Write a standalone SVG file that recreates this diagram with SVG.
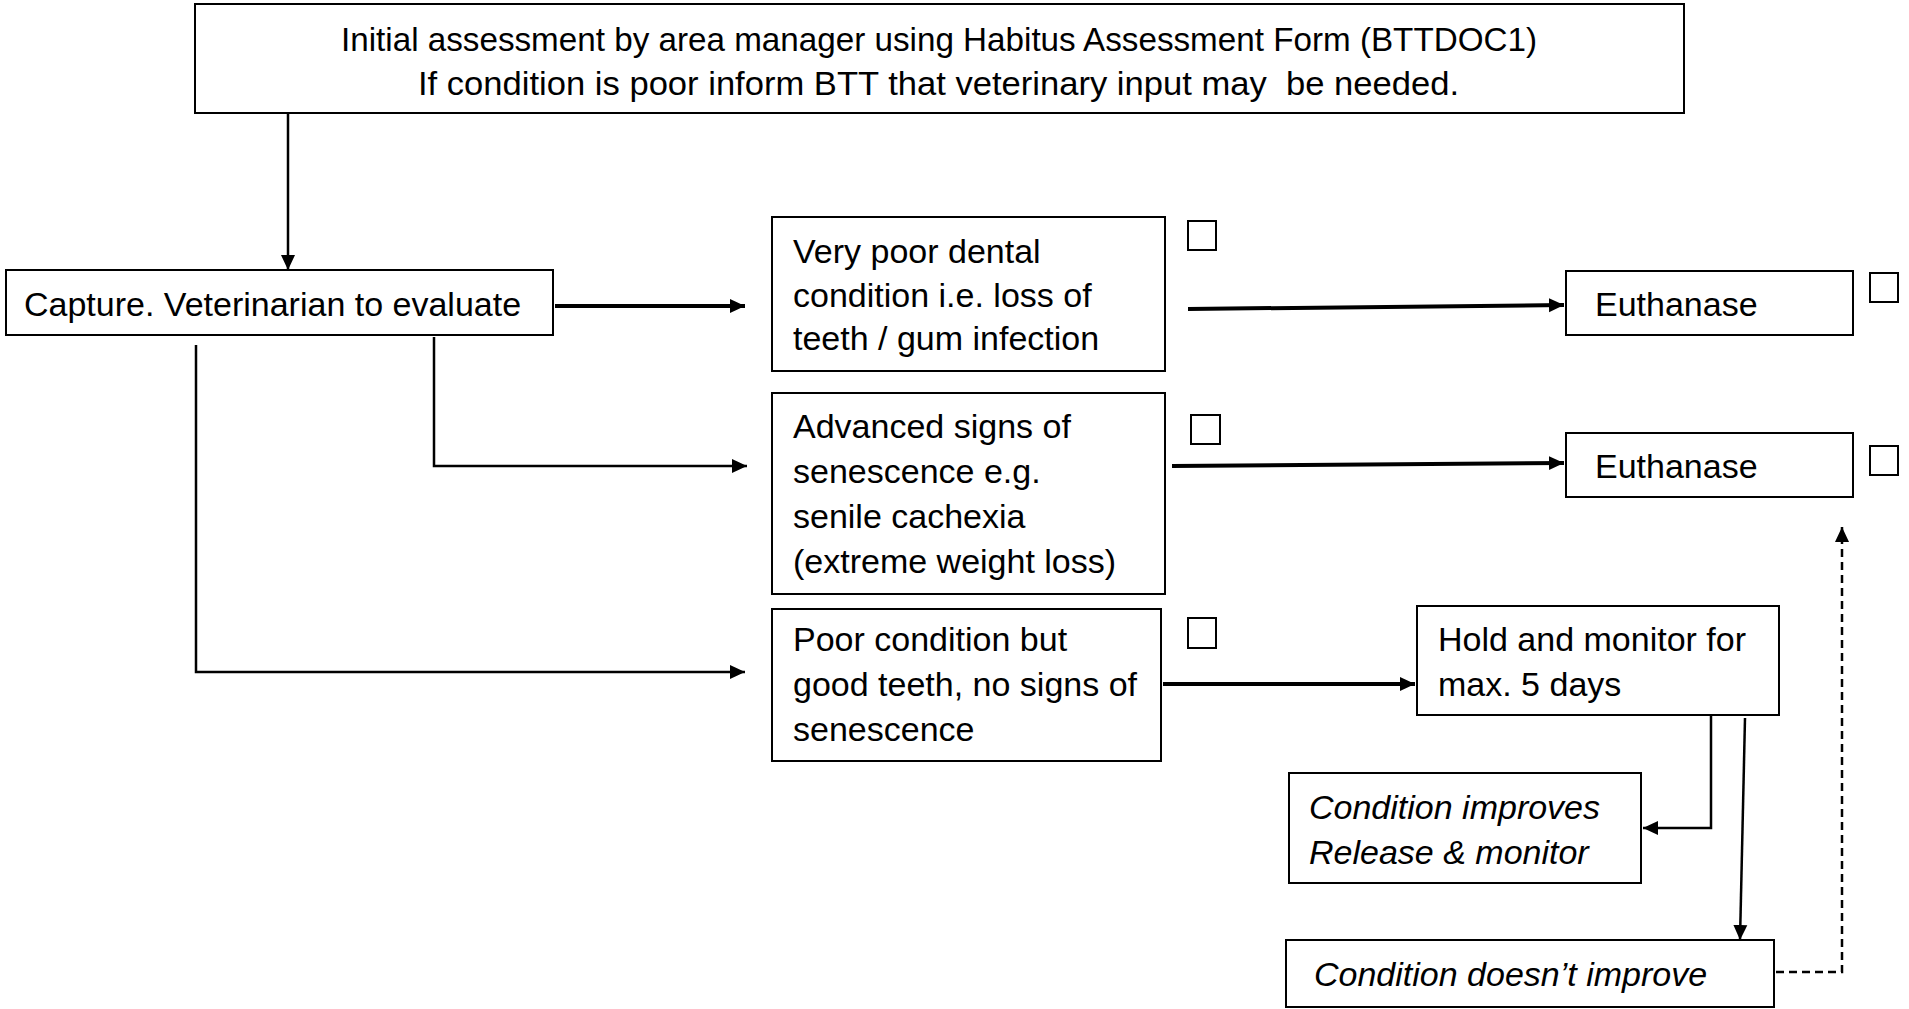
<svg xmlns="http://www.w3.org/2000/svg" width="1909" height="1009" viewBox="0 0 1909 1009">
<style>
.box{fill:#fff;stroke:#000;stroke-width:2}
.chk{fill:none;stroke:#000;stroke-width:2}
.t{font-family:"Liberation Sans",Arial,sans-serif;font-size:34px;fill:#000}
.i{font-style:italic}
.c{stroke:#000;stroke-width:4;fill:none}
.thin{stroke-width:2.5}
.dash{stroke-dasharray:8,5;stroke-width:2.5}
</style>
<defs>
<marker id="ah" markerUnits="userSpaceOnUse" markerWidth="18" markerHeight="16" refX="15" refY="8" orient="auto">
<path d="M0,1 L15,8 L0,15 Z" fill="#000"/>
</marker>
</defs>
<rect width="1909" height="1009" fill="#fff"/>
<g id="connectors">
<path class="c thin" d="M288,113 V270" marker-end="url(#ah)"/>
<path class="c" d="M555,306 H745" marker-end="url(#ah)"/>
<path class="c thin" d="M434,337 V466 H747" marker-end="url(#ah)"/>
<path class="c thin" d="M196,345 V672 H745" marker-end="url(#ah)"/>
<path class="c" d="M1188,309 L1564,305" marker-end="url(#ah)"/>
<path class="c" d="M1172,466 L1564,463" marker-end="url(#ah)"/>
<path class="c" d="M1163,684 H1415" marker-end="url(#ah)"/>
<path class="c thin" d="M1711,715 V828 H1643" marker-end="url(#ah)"/>
<path class="c thin" d="M1745,718 L1740,940" marker-end="url(#ah)"/>
<path class="c dash" d="M1776,972 H1842 V527" marker-end="url(#ah)"/>
</g>
<g id="n_initial">
<rect class="box" x="195" y="4" width="1489" height="109"/>
<text class="t" x="341" y="51" textLength="1196" lengthAdjust="spacingAndGlyphs">Initial assessment by area manager using Habitus Assessment Form (BTTDOC1)</text>
<text class="t" x="418" y="95" textLength="1041" lengthAdjust="spacingAndGlyphs">If condition is poor inform BTT that veterinary input may&#160; be needed.</text>
</g>
<g id="n_capture">
<rect class="box" x="6" y="270" width="547" height="65"/>
<text class="t" x="24" y="316">Capture. Veterinarian to evaluate</text>
</g>
<g id="n_dental">
<rect class="box" x="772" y="217" width="393" height="154"/>
<text class="t" x="793" y="263">Very poor dental</text>
<text class="t" x="793" y="307">condition i.e. loss of</text>
<text class="t" x="793" y="350">teeth / gum infection</text>
<rect class="chk" x="1188" y="221" width="28" height="29"/>
</g>
<g id="n_euth1">
<rect class="box" x="1566" y="271" width="287" height="64"/>
<text class="t" x="1595" y="316">Euthanase</text>
<rect class="chk" x="1870" y="273" width="28" height="29"/>
</g>
<g id="n_advanced">
<rect class="box" x="772" y="393" width="393" height="201"/>
<text class="t" x="793" y="438">Advanced signs of</text>
<text class="t" x="793" y="483">senescence e.g.</text>
<text class="t" x="793" y="528">senile cachexia</text>
<text class="t" x="793" y="573">(extreme weight loss)</text>
<rect class="chk" x="1191" y="415" width="29" height="29"/>
</g>
<g id="n_euth2">
<rect class="box" x="1566" y="433" width="287" height="64"/>
<text class="t" x="1595" y="478">Euthanase</text>
<rect class="chk" x="1870" y="446" width="28" height="29"/>
</g>
<g id="n_poor">
<rect class="box" x="772" y="609" width="389" height="152"/>
<text class="t" x="793" y="651">Poor condition but</text>
<text class="t" x="793" y="696">good teeth, no signs of</text>
<text class="t" x="793" y="741">senescence</text>
<rect class="chk" x="1188" y="618" width="28" height="30"/>
</g>
<g id="n_hold">
<rect class="box" x="1417" y="606" width="362" height="109"/>
<text class="t" x="1438" y="651">Hold and monitor for</text>
<text class="t" x="1438" y="696">max. 5 days</text>
</g>
<g id="n_improves">
<rect class="box" x="1289" y="773" width="352" height="110"/>
<text class="t i" x="1309" y="819">Condition improves</text>
<text class="t i" x="1309" y="864">Release &amp; monitor</text>
</g>
<g id="n_noimprove">
<rect class="box" x="1286" y="940" width="488" height="67"/>
<text class="t i" x="1314" y="986">Condition doesn’t improve</text>
</g>
</svg>
